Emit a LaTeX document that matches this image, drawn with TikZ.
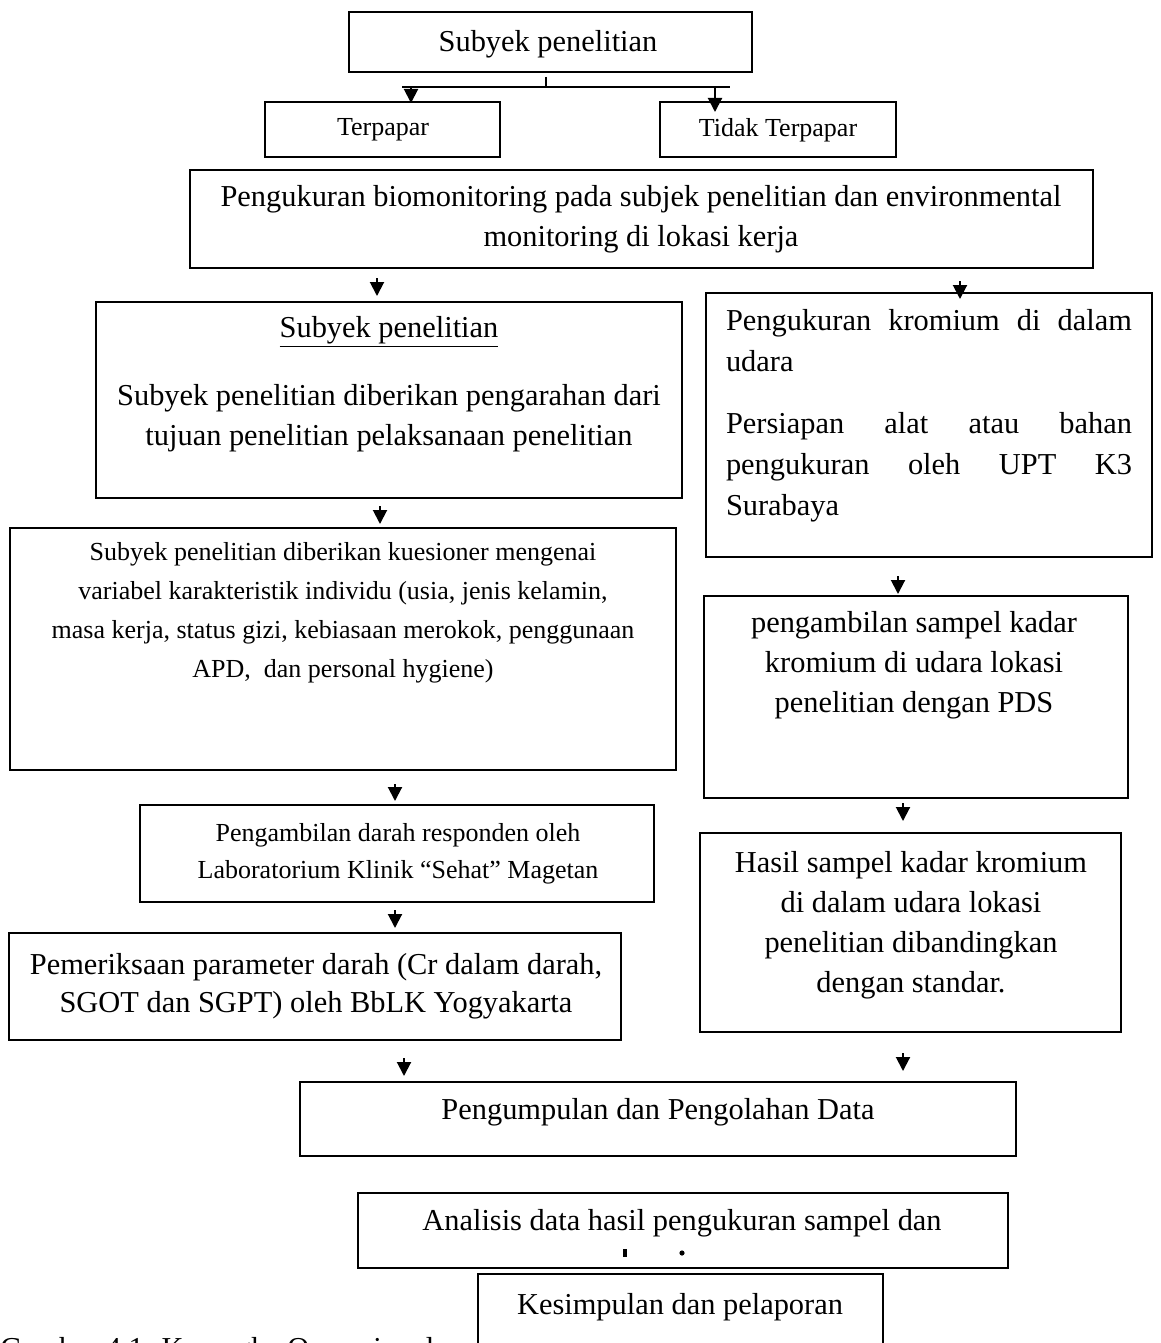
\documentclass[tikz,border=0pt]{standalone}
\usepackage{fontspec}
\setmainfont{Liberation Serif}
\usetikzlibrary{arrows.meta}
\begin{document}
\begin{tikzpicture}[x=0.5pt,y=-0.5pt,
  box/.style={draw, line width=1.2pt, inner sep=0pt},
  big/.style={font=\fontsize{15.2}{20}\selectfont, align=center, inner sep=0pt},
  small/.style={font=\fontsize{13}{19.5}\selectfont, align=center, inner sep=0pt},
  arr/.style={line width=1pt, -{Triangle[width=7pt,length=7pt]}},
  ln/.style={line width=1pt}]
\useasboundingbox (0,0) rectangle (1161,1343);
\clip (0,0) rectangle (1161,1343);

% boxes
\node[box, minimum width=201.5pt, minimum height=30pt]   (b1)  at (550.5,42) {};
\node[box, minimum width=117.5pt, minimum height=27.5pt] (bter) at (382.5,129.5) {};
\node[box, minimum width=118pt,   minimum height=27.5pt] (btid) at (778,129.5) {};
\node[box, minimum width=451.5pt, minimum height=49pt]   (bbio) at (641.5,219) {};
\node[box, minimum width=293pt,   minimum height=98pt]   (bA) at (389,400) {};
\node[box, minimum width=223pt,   minimum height=132pt]  (bB) at (929,425) {};
\node[box, minimum width=333pt,   minimum height=121pt]  (bC) at (343,649) {};
\node[box, minimum width=212pt,   minimum height=101pt]  (bD) at (916,697) {};
\node[box, minimum width=257pt,   minimum height=48.5pt] (bE) at (397,853.5) {};
\node[box, minimum width=210.5pt, minimum height=99.5pt] (bF) at (910.5,932.5) {};
\node[box, minimum width=306pt,   minimum height=53.5pt] (bG) at (315,986.5) {};
\node[box, minimum width=358pt,   minimum height=37pt]   (bH) at (658,1119) {};
\node[box, minimum width=325pt,   minimum height=37.5pt] (bI) at (683,1230.5) {};
\node[box, minimum width=202.5pt, minimum height=53pt]   (bJ) at (680.5,1327) {};

% texts
\node[big] (t1) at (548,44) {Subyek penelitian};
\node[small] (tter) at (383,130) {Terpapar};
\node[small] (ttid) at (778,130) {Tidak Terpapar};
\node[big] (tbio) at (641,219) {Pengukuran biomonitoring pada subjek penelitian dan environmental\\monitoring di lokasi kerja};
\node[big] (tAh) at (389,332) {\underline{Subyek penelitian}};
\node[big] (tA) at (389,418) {Subyek penelitian diberikan pengarahan dari\\tujuan penelitian pelaksanaan penelitian};
\node[font=\fontsize{15.2}{20.5}\selectfont, inner sep=0pt, text width=203pt, align=left] (tB) at (929,416)
  {Pengukuran\hfill kromium\hfill di\hfill dalam\\ udara\\[10.5pt] Persiapan\hfill alat\hfill atau\hfill bahan\\ pengukuran\hfill oleh\hfill UPT\hfill K3\\ Surabaya};
\node[small] (tC) at (343,613) {Subyek penelitian diberikan kuesioner mengenai\\variabel karakteristik individu (usia, jenis kelamin,\\masa kerja, status gizi, kebiasaan merokok, penggunaan\\APD,\ \ dan personal hygiene)};
\node[big] (tD) at (914,665) {pengambilan sampel kadar\\kromium di udara lokasi\\penelitian dengan PDS};
\node[small, font=\fontsize{13}{18.5}\selectfont] (tE) at (398,853.5) {Pengambilan darah responden oleh\\Laboratorium Klinik “Sehat” Magetan};
\node[big] (tF) at (911,925) {Hasil sampel kadar kromium\\di dalam udara lokasi\\penelitian dibandingkan\\dengan standar.};
\node[big, font=\fontsize{15.2}{19}\selectfont] (tG) at (316,986) {Pemeriksaan parameter darah (Cr dalam darah,\\SGOT dan SGPT) oleh BbLK Yogyakarta};
\node[big] (tH) at (658,1112) {Pengumpulan dan Pengolahan Data};
\node[big] (tI) at (682,1223) {Analisis data hasil pengukuran sampel dan};
\node[big] (tJ) at (680,1307) {Kesimpulan dan pelaporan};
\node[font=\fontsize{15.2}{20}\selectfont, inner sep=0pt, anchor=base west] (cap) at (0,1358) {Gambar 4.1. Kerangka Operasional};

% remnants of a clipped line in the Analisis box
\fill (623,1249) rectangle (627,1257);
\fill (682,1253) circle[radius=1.3pt];

% branching from the top box
\coordinate (tk1) at (546,77);
\coordinate (tk2) at (546,87);
\coordinate (brl) at (402,87);
\coordinate (brr) at (730,87);
\draw[ln] (tk1) -- (tk2);
\draw[ln] (brl) -- (brr);
\coordinate (a1s) at (411,87);  \coordinate (a1e) at (411,103);
\coordinate (a2s) at (715,87);  \coordinate (a2e) at (715,112);
\draw[arr] (a1s) -- (a1e);
\draw[arr] (a2s) -- (a2e);

% floating arrows
\coordinate (a3s) at (377,278);  \coordinate (a3e) at (377,296);
\coordinate (a4s) at (960,281);  \coordinate (a4e) at (960,299);
\coordinate (a5s) at (380,506);  \coordinate (a5e) at (380,524);
\coordinate (a6s) at (898,576);  \coordinate (a6e) at (898,594);
\coordinate (a7s) at (395,784);  \coordinate (a7e) at (395,801);
\coordinate (a8s) at (903,803);  \coordinate (a8e) at (903,821);
\coordinate (a9s) at (395,910);  \coordinate (a9e) at (395,928);
\coordinate (a10s) at (404,1058); \coordinate (a10e) at (404,1076);
\coordinate (a11s) at (903,1053); \coordinate (a11e) at (903,1071);
\foreach \i in {3,...,11} {\draw[arr] (a\i s) -- (a\i e);}
\end{tikzpicture}
\end{document}
